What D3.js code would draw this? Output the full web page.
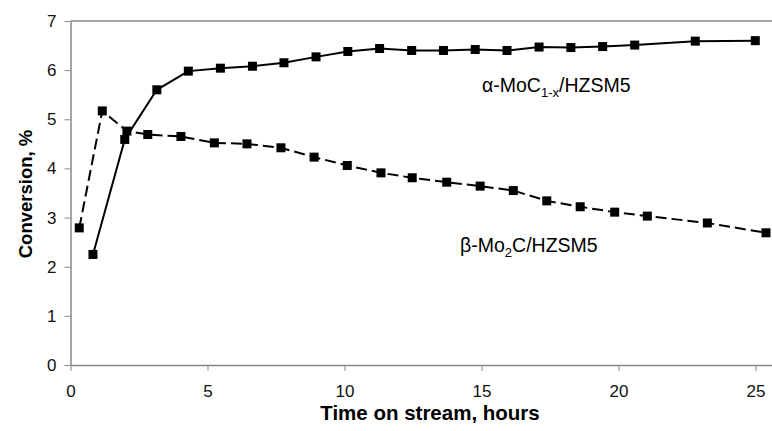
<!DOCTYPE html>
<html>
<head>
<meta charset="utf-8">
<script src="https://cdn.jsdelivr.net/npm/d3@7"></script>
<style>
  body { margin: 0; background: #fff; }
  svg { display: block; font-family: Arial, "Liberation Sans", sans-serif; }
</style>
</head>
<body>
<svg width="772" height="431"></svg>
<script>
// alpha-MoC(1-x)/HZSM5, solid line
const alphaHours = [0.82, 1.98, 3.15, 4.30, 5.47, 6.64, 7.79, 8.96, 10.12, 11.28, 12.45, 13.61, 14.77, 15.93, 17.10, 18.26, 19.42, 20.59, 22.80, 24.99];
const alphaConv  = [2.25, 4.59, 5.60, 5.98, 6.04, 6.08, 6.15, 6.27, 6.38, 6.44, 6.40, 6.40, 6.42, 6.40, 6.47, 6.46, 6.48, 6.51, 6.59, 6.60];

// beta-Mo2C/HZSM5, dashed line
const betaHours = [0.32, 1.16, 2.06, 2.82, 4.03, 5.25, 6.44, 7.68, 8.89, 10.10, 11.33, 12.47, 13.73, 14.95, 16.16, 17.38, 18.60, 19.86, 21.05, 23.24, 25.38];
const betaConv  = [2.79, 5.17, 4.76, 4.69, 4.65, 4.52, 4.50, 4.42, 4.23, 4.06, 3.91, 3.81, 3.72, 3.64, 3.55, 3.34, 3.22, 3.11, 3.03, 2.89, 2.69];

const xTicks = [0, 5, 10, 15, 20, 25];
const yTicks = [0, 1, 2, 3, 4, 5, 6, 7];

const svg = d3.select("svg");

const x = d3.scaleLinear().domain([0, 25.6]).range([70.5, 772]);
const y = d3.scaleLinear().domain([0, 7]).range([365, 21]);

const axisColor = "#888";

// top border
svg.append("line")
    .attr("x1", x(0)).attr("x2", 772)
    .attr("y1", y(7)).attr("y2", y(7))
    .style("stroke", axisColor)
    .style("stroke-width", 1.5);

const xAxis = svg.append("g")
    .attr("transform", `translate(0,${y(0)})`)
    .call(d3.axisBottom(x).tickValues(xTicks).tickFormat(d3.format("d"))
        .tickSize(6).tickSizeOuter(0).tickPadding(14));

const yAxis = svg.append("g")
    .attr("transform", `translate(${x(0)},0)`)
    .call(d3.axisLeft(y).tickValues(yTicks).tickFormat(d3.format("d"))
        .tickSize(6).tickSizeOuter(0).tickPadding(8));

[xAxis, yAxis].forEach(g => {
    g.select(".domain").style("stroke", axisColor).style("stroke-width", 1.5);
    g.selectAll(".tick line").style("stroke", axisColor);
    g.selectAll(".tick text")
        .style("font-size", "17px")
        .style("font-family", "Arial, 'Liberation Sans', sans-serif")
        .style("fill", "#111");
});

const line = d3.line().x(d => x(d[0])).y(d => y(d[1]));

function drawSeries(hours, conv, dash) {
    const pts = hours.map((h, i) => [h, conv[i]]);
    svg.append("path")
        .datum(pts)
        .attr("d", line)
        .style("fill", "none")
        .style("stroke", "#000")
        .style("stroke-width", 2)
        .style("stroke-dasharray", dash);
    svg.append("g")
        .selectAll("rect")
        .data(pts)
        .enter()
        .append("rect")
        .attr("x", d => x(d[0]) - 4.5)
        .attr("y", d => y(d[1]) - 4.5)
        .attr("width", 9)
        .attr("height", 9)
        .style("fill", "#000");
}

drawSeries(betaHours, betaConv, "11,5");
drawSeries(alphaHours, alphaConv, null);

// series labels
const alphaLabel = svg.append("text")
    .attr("x", 482).attr("y", 92)
    .style("font-size", "19.5px");
alphaLabel.append("tspan").text("α-MoC");
alphaLabel.append("tspan").attr("dy", 5).style("font-size", "13px").text("1-x");
alphaLabel.append("tspan").attr("dy", -5).text("/HZSM5");

const betaLabel = svg.append("text")
    .attr("x", 460).attr("y", 252)
    .style("font-size", "19.5px");
betaLabel.append("tspan").text("β-Mo");
betaLabel.append("tspan").attr("dy", 5).style("font-size", "13px").text("2");
betaLabel.append("tspan").attr("dy", -5).text("C/HZSM5");

// axis titles
svg.append("text")
    .attr("x", 430).attr("y", 420)
    .attr("text-anchor", "middle")
    .style("font-size", "20.5px")
    .style("font-weight", "bold")
    .text("Time on stream, hours");

svg.append("text")
    .attr("transform", "translate(32,194) rotate(-90)")
    .attr("text-anchor", "middle")
    .style("font-size", "18.5px")
    .style("font-weight", "bold")
    .text("Conversion, %");
</script>
</body>
</html>
